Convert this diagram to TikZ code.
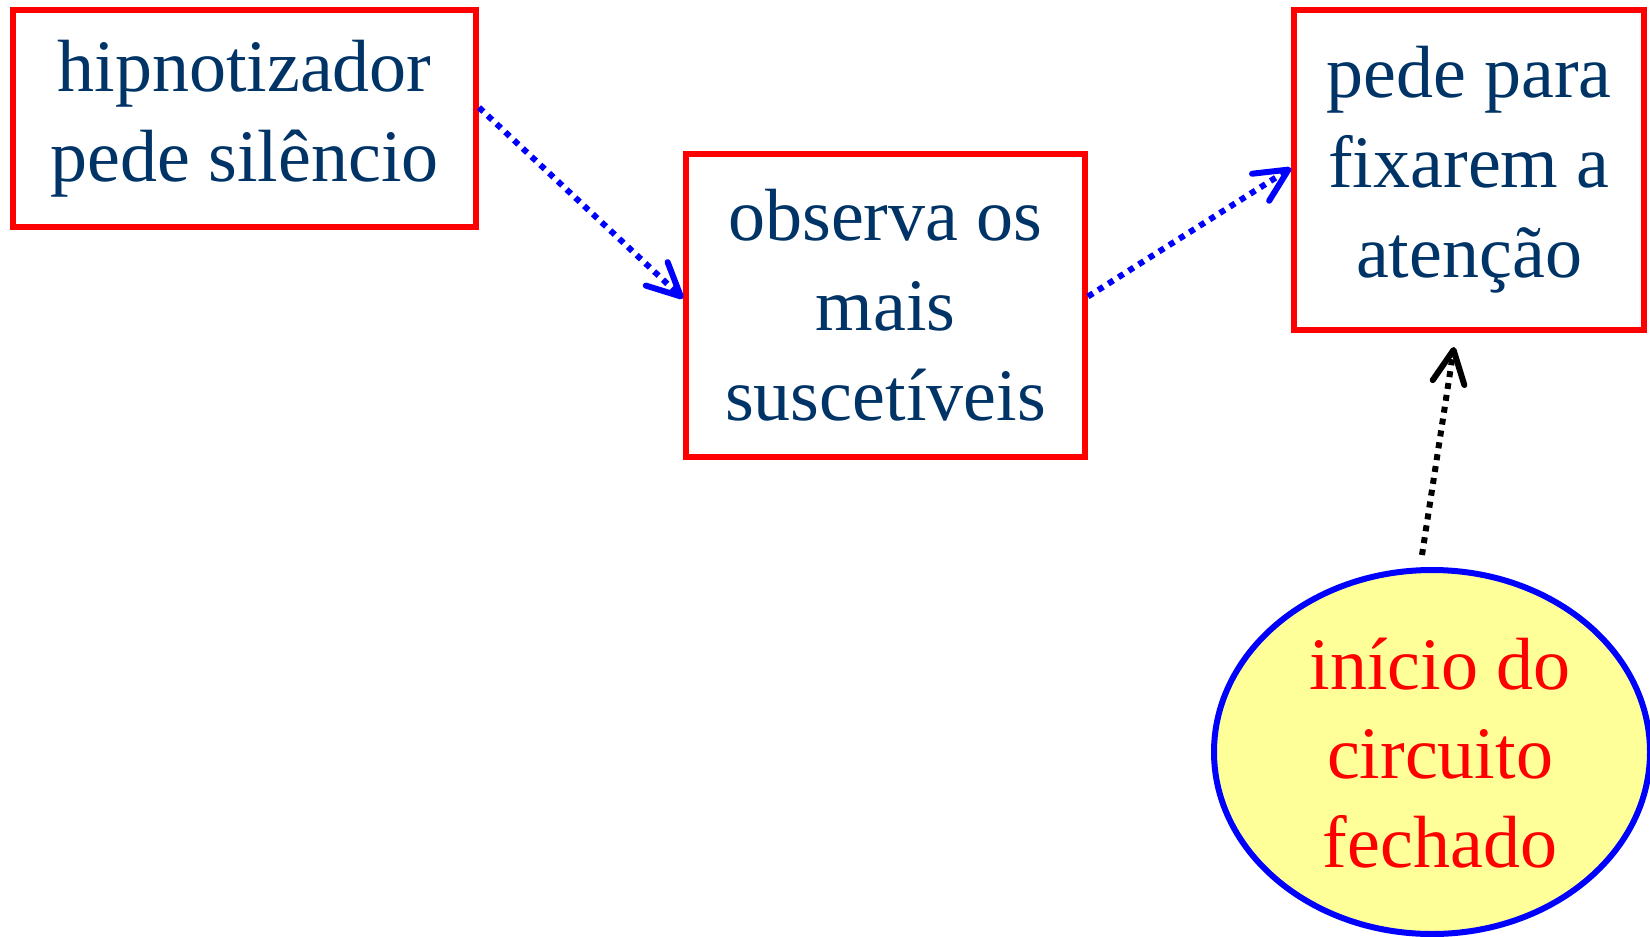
\documentclass[tikz,border=0pt]{standalone}
\usepackage{fontspec}
\setmainfont{Liberation Serif}
\usetikzlibrary{arrows.meta,shapes.geometric,calc}
\definecolor{navy}{HTML}{003366}
\definecolor{paleyellow}{HTML}{FFFF99}
\begin{document}
\begin{tikzpicture}[x=1pt,y=-1pt,
  stepbox/.style={draw=red, line width=6pt, rectangle, inner sep=0pt, align=center,
    text=navy, font=\fontsize{74}{90}\selectfont},
  flowarrow/.style={line width=6pt, dash pattern=on 6pt off 6pt,
    -{Straight Barb[length=33pt, width=32pt, line width=6pt, round]}},
]
\useasboundingbox (0,0) rectangle (1650,937);
\node[stepbox, minimum width=463pt, minimum height=217pt] (b1) at (244.5,118.5)
  {\raisebox{-3pt}{hipnotizador}\\\raisebox{-3pt}{pede silêncio}};
\node[stepbox, minimum width=399pt, minimum height=303pt] (b2) at (885.5,305.5)
  {observa os\\mais\\suscetíveis};
\node[stepbox, minimum width=350pt, minimum height=320pt] (b3) at (1469,170)
  {pede para\\fixarem a\\atenção};
\node[ellipse, draw=blue, fill=paleyellow, line width=6pt, inner sep=0pt,
  minimum width=436pt, minimum height=364pt] (e) at (1432,752) {};
\node[align=center, text=red, inner sep=0pt, font=\fontsize{74}{89}\selectfont]
  (et) at (1440,753) {início do\\circuito\\fechado};
\draw[flowarrow, blue] ($(b1.east)+(0,-11)$) -- ($(b2.west)+(0,-7)$);
\draw[flowarrow, blue] ($(b2.east)+(0,-9)$) -- ($(b3.west)+(0,-2)$);
\draw[flowarrow, black] ($(e.north)+(-10,-12)$) -- ($(b3.south)+(-15,14)$);
\end{tikzpicture}
\end{document}
